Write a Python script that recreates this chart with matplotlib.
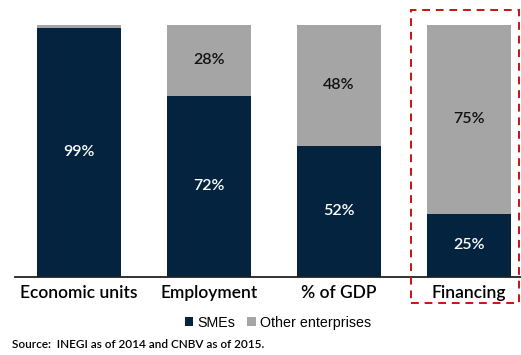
import matplotlib.pyplot as plt
from matplotlib.patches import Rectangle

categories = ['Economic units', 'Employment', '% of GDP', 'Financing']
smes = [99, 72, 52, 25]
others = [1, 28, 48, 75]

navy = '#03233f'
grey = '#a5a5a5'

fig = plt.figure(figsize=(5.21, 3.55), dpi=100)
ax = fig.add_axes([15 / 521, 1 - 277 / 355, 506 / 521, 252 / 355])

x = range(len(categories))
ax.bar(x, smes, width=0.645, color=navy, label='SMEs')
ax.bar(x, others, width=0.645, bottom=smes, color=grey, label='Other enterprises')

for i in x:
    ax.text(i, smes[i] / 2, f'{smes[i]}%', ha='center', va='center',
            color='white', fontsize=11.5, family='Lato', weight='semibold')
    if others[i] >= 5:
        ax.text(i, smes[i] + others[i] / 2, f'{others[i]}%', ha='center',
                va='center', color='#111111', fontsize=11.5, family='Lato',
                weight='semibold')

ax.set_xlim(-0.492, 3.4)
ax.set_ylim(0, 100)
ax.set_yticks([])
ax.set_xticks(list(x))
ax.set_xticklabels(categories, fontsize=12.5, family='Lato', weight='semibold')
ax.tick_params(axis='x', length=0, pad=6)
for side in ['top', 'right', 'left']:
    ax.spines[side].set_visible(False)
ax.spines['bottom'].set_linewidth(1.3)
ax.spines['bottom'].set_color('#222222')

# dashed highlight around the financing column
fig.patches.append(Rectangle((411 / 521, 1 - 303 / 355), 108 / 521, 293 / 355,
                             transform=fig.transFigure, fill=False,
                             edgecolor='#cc1111', linestyle=(0, (4, 3)),
                             linewidth=1.4))

fig.legend(loc='center', bbox_to_anchor=(278 / 521, 1 - 323 / 355), ncol=2,
           frameon=False, handlelength=0.6, handleheight=0.6,
           handletextpad=0.3, columnspacing=0.8,
           prop={'family': 'Liberation Sans', 'size': 10.3})

fig.text(12 / 521, 1 - 345 / 355, 'Source:  INEGI as of 2014 and CNBV as of 2015.',
         fontsize=8.5, family='Lato', weight='semibold', va='center')

fig.savefig('out.png', dpi=100)
